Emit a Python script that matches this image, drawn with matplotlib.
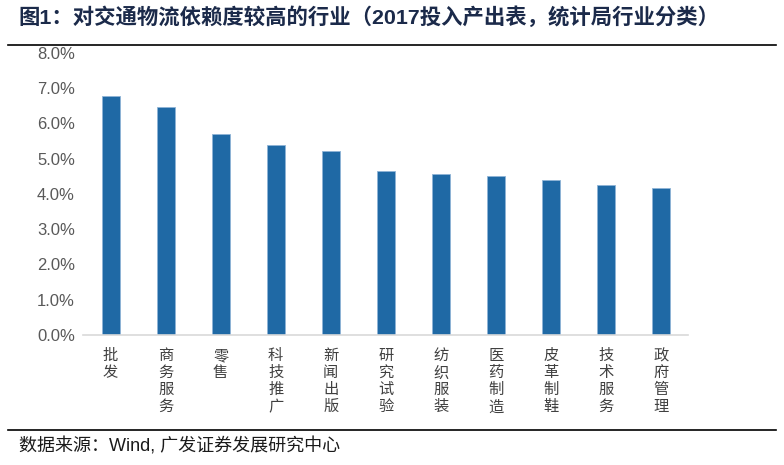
import numpy as np
import matplotlib.pyplot as plt

plt.rcParams['font.family'] = ['Noto Sans CJK SC', 'DejaVu Sans']

## dados
hangye = ['批发', '商务服务', '零售', '科技推广', '新闻出版', '研究试验',
          '纺织服装', '医药制造', '皮革制鞋', '技术服务', '政府管理']
yilai = [6.77, 6.46, 5.69, 5.38, 5.21, 4.65, 4.56, 4.50, 4.39, 4.25, 4.16]

fig = plt.figure(figsize=(7.84, 4.65), dpi=100)
ax = fig.add_axes([0.106, 0.280, 0.772, 0.606])

x = np.arange(len(hangye))
ax.bar(x, yilai, width=0.33, color='#1F69A5', edgecolor='#8fb4d6', linewidth=0.6)

ax.set_xlim(-0.5, len(hangye) - 0.5)
ax.set_ylim(0, 8)
ax.set_yticks(np.arange(0, 8.01, 1))
ax.set_yticklabels(['{:.1f}%'.format(v) for v in np.arange(0, 8.01, 1)],
                   family=['Liberation Sans'], fontsize=12, color='#595959')
ax.set_xticks(x)
ax.set_xticklabels(['\n'.join(h) for h in hangye], fontsize=11, color='#404040',
                   linespacing=1.0, va='top')
ax.tick_params(axis='both', length=0)
ax.tick_params(axis='x', pad=9)
ax.tick_params(axis='y', pad=6)
for s in ['top', 'right', 'left']:
    ax.spines[s].set_visible(False)
ax.spines['bottom'].set_color('#d9d9d9')
ax.spines['bottom'].set_linewidth(1.2)

# titulo e fonte
fig.text(0.024, 0.963, '图1：对交通物流依赖度较高的行业（2017投入产出表，统计局行业分类）',
         fontsize=15.4, fontweight='bold', color='#1b2a4a', va='center',
         family=['Liberation Sans', 'Noto Sans CJK SC'])
fig.add_artist(plt.Line2D([0.010, 0.990], [0.903, 0.903], color='black', lw=1.2))
fig.add_artist(plt.Line2D([0.010, 0.990], [0.075, 0.075], color='black', lw=1.2))
fig.text(0.024, 0.040, '数据来源：Wind, 广发证券发展研究中心', fontsize=13,
         color='#1a1a1a', va='center', family=['Liberation Sans', 'Noto Sans CJK SC'])

plt.savefig('out.png', dpi=100)
